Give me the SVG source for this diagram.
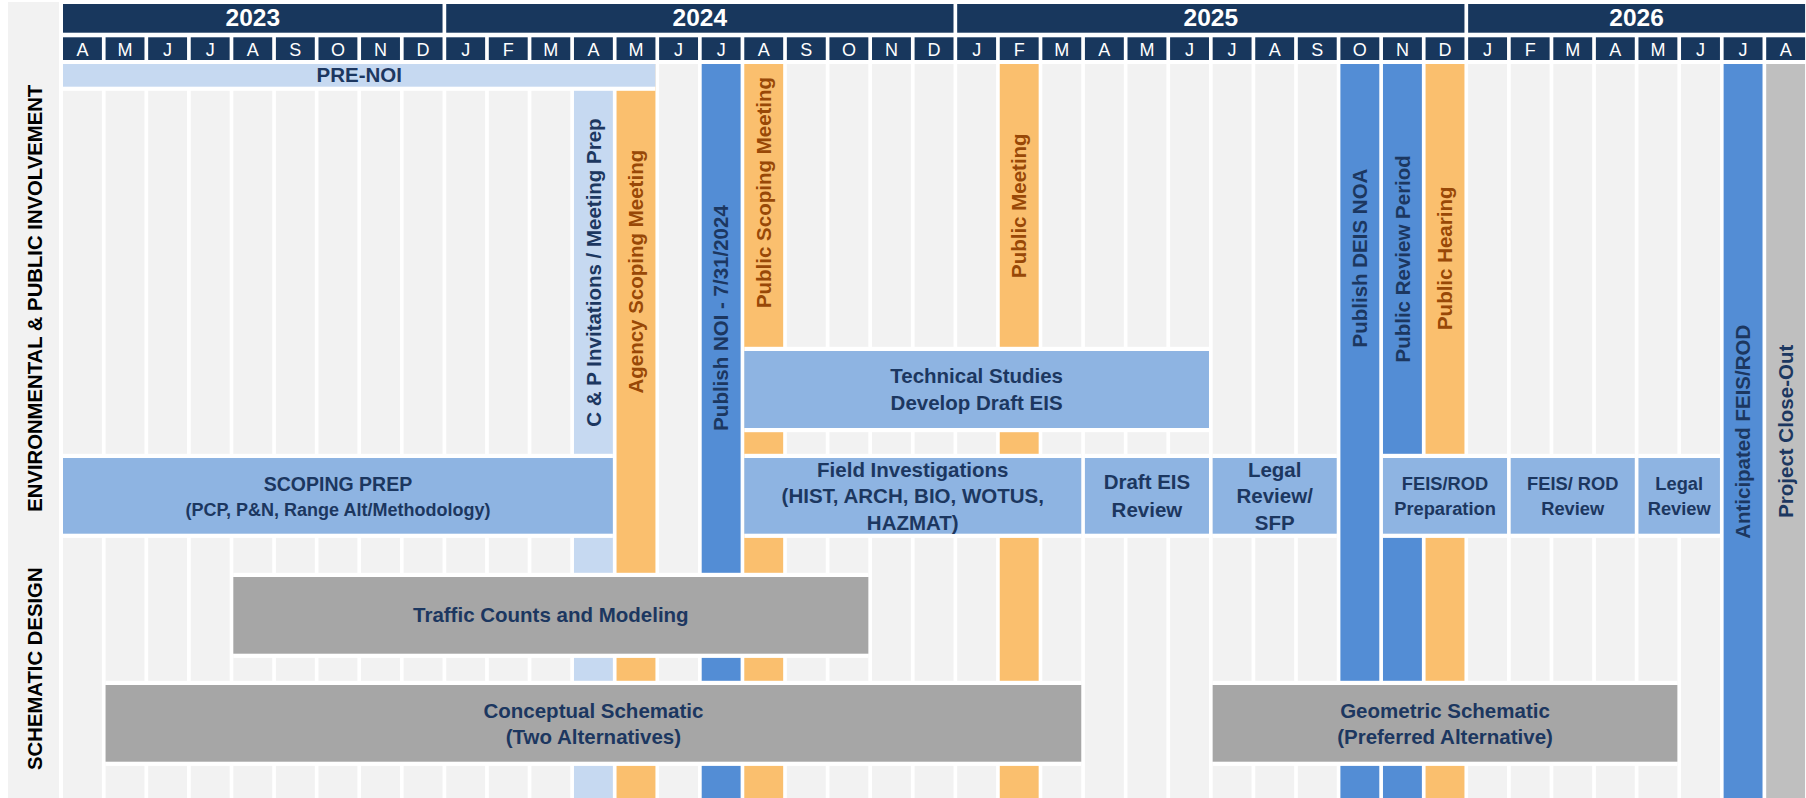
<svg xmlns="http://www.w3.org/2000/svg" width="1806" height="798" viewBox="0 0 1806 798">
<style>
.bg{fill:#ffffff}
.hdr{fill:#18375d}
.yr{font-family:"Liberation Sans",Arial,sans-serif;font-weight:bold;font-size:24.5px;fill:#ffffff;text-anchor:middle}
.mo{font-family:"Liberation Sans",Arial,sans-serif;font-size:18px;fill:#ffffff;text-anchor:middle}
.side{fill:#f2f2f2}
.sl{font-family:"Liberation Sans",Arial,sans-serif;font-weight:bold;font-size:20.3px;fill:#000000;text-anchor:middle}
.cell{fill:#f2f2f2}
.halo{fill:#ffffff}
.lb{fill:#c6d9f1}
.mb{fill:#8eb4e2}
.db{fill:#538dd5}
.or{fill:#fabf6e}
.gr{fill:#a6a6a6}
.gl{fill:#bfbfbf}
.t{font-family:"Liberation Sans",Arial,sans-serif;font-weight:bold;font-size:20.5px;fill:#1c3760;text-anchor:middle}
.s18{font-size:18.3px}
.br{fill:#984807}
</style>
<rect class="bg" x="0" y="0" width="1806" height="798"/>

<g id="side-panel">
<rect class="side" x="8" y="2" width="51" height="796"/>
<text class="sl" x="42" y="298.3" transform="rotate(-90 42 298.3)">ENVIRONMENTAL &amp; PUBLIC INVOLVEMENT</text>
<text class="sl" x="42" y="668.7" transform="rotate(-90 42 668.7)">SCHEMATIC DESIGN</text>
</g>

<g id="year-headers">
<rect class="hdr" x="63" y="4" width="379.54" height="28.7"/>
<text class="yr" x="252.77" y="26">2023</text>
<rect class="hdr" x="446.22" y="4" width="507.28" height="28.7"/>
<text class="yr" x="699.86" y="26">2024</text>
<rect class="hdr" x="957.18" y="4" width="507.28" height="28.7"/>
<text class="yr" x="1210.82" y="26">2025</text>
<rect class="hdr" x="1468.14" y="4" width="336.96" height="28.7"/>
<text class="yr" x="1636.62" y="26">2026</text>
</g>

<g id="month-headers">
<rect class="hdr" x="63" y="37.3" width="38.9" height="22.7"/><text class="mo" x="82.45" y="56">A</text>
<rect class="hdr" x="105.58" y="37.3" width="38.9" height="22.7"/><text class="mo" x="125.03" y="56">M</text>
<rect class="hdr" x="148.16" y="37.3" width="38.9" height="22.7"/><text class="mo" x="167.61" y="56">J</text>
<rect class="hdr" x="190.74" y="37.3" width="38.9" height="22.7"/><text class="mo" x="210.19" y="56">J</text>
<rect class="hdr" x="233.32" y="37.3" width="38.9" height="22.7"/><text class="mo" x="252.77" y="56">A</text>
<rect class="hdr" x="275.9" y="37.3" width="38.9" height="22.7"/><text class="mo" x="295.35" y="56">S</text>
<rect class="hdr" x="318.48" y="37.3" width="38.9" height="22.7"/><text class="mo" x="337.93" y="56">O</text>
<rect class="hdr" x="361.06" y="37.3" width="38.9" height="22.7"/><text class="mo" x="380.51" y="56">N</text>
<rect class="hdr" x="403.64" y="37.3" width="38.9" height="22.7"/><text class="mo" x="423.09" y="56">D</text>
<rect class="hdr" x="446.22" y="37.3" width="38.9" height="22.7"/><text class="mo" x="465.67" y="56">J</text>
<rect class="hdr" x="488.8" y="37.3" width="38.9" height="22.7"/><text class="mo" x="508.25" y="56">F</text>
<rect class="hdr" x="531.38" y="37.3" width="38.9" height="22.7"/><text class="mo" x="550.83" y="56">M</text>
<rect class="hdr" x="573.96" y="37.3" width="38.9" height="22.7"/><text class="mo" x="593.41" y="56">A</text>
<rect class="hdr" x="616.54" y="37.3" width="38.9" height="22.7"/><text class="mo" x="635.99" y="56">M</text>
<rect class="hdr" x="659.12" y="37.3" width="38.9" height="22.7"/><text class="mo" x="678.57" y="56">J</text>
<rect class="hdr" x="701.7" y="37.3" width="38.9" height="22.7"/><text class="mo" x="721.15" y="56">J</text>
<rect class="hdr" x="744.28" y="37.3" width="38.9" height="22.7"/><text class="mo" x="763.73" y="56">A</text>
<rect class="hdr" x="786.86" y="37.3" width="38.9" height="22.7"/><text class="mo" x="806.31" y="56">S</text>
<rect class="hdr" x="829.44" y="37.3" width="38.9" height="22.7"/><text class="mo" x="848.89" y="56">O</text>
<rect class="hdr" x="872.02" y="37.3" width="38.9" height="22.7"/><text class="mo" x="891.47" y="56">N</text>
<rect class="hdr" x="914.6" y="37.3" width="38.9" height="22.7"/><text class="mo" x="934.05" y="56">D</text>
<rect class="hdr" x="957.18" y="37.3" width="38.9" height="22.7"/><text class="mo" x="976.63" y="56">J</text>
<rect class="hdr" x="999.76" y="37.3" width="38.9" height="22.7"/><text class="mo" x="1019.21" y="56">F</text>
<rect class="hdr" x="1042.34" y="37.3" width="38.9" height="22.7"/><text class="mo" x="1061.79" y="56">M</text>
<rect class="hdr" x="1084.92" y="37.3" width="38.9" height="22.7"/><text class="mo" x="1104.37" y="56">A</text>
<rect class="hdr" x="1127.5" y="37.3" width="38.9" height="22.7"/><text class="mo" x="1146.95" y="56">M</text>
<rect class="hdr" x="1170.08" y="37.3" width="38.9" height="22.7"/><text class="mo" x="1189.53" y="56">J</text>
<rect class="hdr" x="1212.66" y="37.3" width="38.9" height="22.7"/><text class="mo" x="1232.11" y="56">J</text>
<rect class="hdr" x="1255.24" y="37.3" width="38.9" height="22.7"/><text class="mo" x="1274.69" y="56">A</text>
<rect class="hdr" x="1297.82" y="37.3" width="38.9" height="22.7"/><text class="mo" x="1317.27" y="56">S</text>
<rect class="hdr" x="1340.4" y="37.3" width="38.9" height="22.7"/><text class="mo" x="1359.85" y="56">O</text>
<rect class="hdr" x="1382.98" y="37.3" width="38.9" height="22.7"/><text class="mo" x="1402.43" y="56">N</text>
<rect class="hdr" x="1425.56" y="37.3" width="38.9" height="22.7"/><text class="mo" x="1445.01" y="56">D</text>
<rect class="hdr" x="1468.14" y="37.3" width="38.9" height="22.7"/><text class="mo" x="1487.59" y="56">J</text>
<rect class="hdr" x="1510.72" y="37.3" width="38.9" height="22.7"/><text class="mo" x="1530.17" y="56">F</text>
<rect class="hdr" x="1553.3" y="37.3" width="38.9" height="22.7"/><text class="mo" x="1572.75" y="56">M</text>
<rect class="hdr" x="1595.88" y="37.3" width="38.9" height="22.7"/><text class="mo" x="1615.33" y="56">A</text>
<rect class="hdr" x="1638.46" y="37.3" width="38.9" height="22.7"/><text class="mo" x="1657.91" y="56">M</text>
<rect class="hdr" x="1681.04" y="37.3" width="38.9" height="22.7"/><text class="mo" x="1700.49" y="56">J</text>
<rect class="hdr" x="1723.62" y="37.3" width="38.9" height="22.7"/><text class="mo" x="1743.07" y="56">J</text>
<rect class="hdr" x="1766.2" y="37.3" width="38.9" height="22.7"/><text class="mo" x="1785.65" y="56">A</text>
</g>

<g id="grid">
<rect class="cell" x="63" y="64" width="38.9" height="734"/>
<rect class="cell" x="105.58" y="64" width="38.9" height="734"/>
<rect class="cell" x="148.16" y="64" width="38.9" height="734"/>
<rect class="cell" x="190.74" y="64" width="38.9" height="734"/>
<rect class="cell" x="233.32" y="64" width="38.9" height="734"/>
<rect class="cell" x="275.9" y="64" width="38.9" height="734"/>
<rect class="cell" x="318.48" y="64" width="38.9" height="734"/>
<rect class="cell" x="361.06" y="64" width="38.9" height="734"/>
<rect class="cell" x="403.64" y="64" width="38.9" height="734"/>
<rect class="cell" x="446.22" y="64" width="38.9" height="734"/>
<rect class="cell" x="488.8" y="64" width="38.9" height="734"/>
<rect class="cell" x="531.38" y="64" width="38.9" height="734"/>
<rect class="cell" x="659.12" y="64" width="38.9" height="734"/>
<rect class="cell" x="786.86" y="64" width="38.9" height="734"/>
<rect class="cell" x="829.44" y="64" width="38.9" height="734"/>
<rect class="cell" x="872.02" y="64" width="38.9" height="734"/>
<rect class="cell" x="914.6" y="64" width="38.9" height="734"/>
<rect class="cell" x="957.18" y="64" width="38.9" height="734"/>
<rect class="cell" x="1042.34" y="64" width="38.9" height="734"/>
<rect class="cell" x="1084.92" y="64" width="38.9" height="734"/>
<rect class="cell" x="1127.5" y="64" width="38.9" height="734"/>
<rect class="cell" x="1170.08" y="64" width="38.9" height="734"/>
<rect class="cell" x="1212.66" y="64" width="38.9" height="734"/>
<rect class="cell" x="1255.24" y="64" width="38.9" height="734"/>
<rect class="cell" x="1297.82" y="64" width="38.9" height="734"/>
<rect class="cell" x="1468.14" y="64" width="38.9" height="734"/>
<rect class="cell" x="1510.72" y="64" width="38.9" height="734"/>
<rect class="cell" x="1553.3" y="64" width="38.9" height="734"/>
<rect class="cell" x="1595.88" y="64" width="38.9" height="734"/>
<rect class="cell" x="1638.46" y="64" width="38.9" height="734"/>
<rect class="cell" x="1681.04" y="64" width="38.9" height="734"/>
</g>

<g id="cp-invitations">
<rect class="lb" x="573.96" y="64" width="38.9" height="734"/>
<text class="t" x="600.7" y="272.5" transform="rotate(-90 600.7 272.5)">C &amp; P Invitations / Meeting Prep</text>
</g>
<g id="agency-scoping-meeting">
<rect class="or" x="616.54" y="64" width="38.9" height="734"/>
<text class="t br" x="643.3" y="271.7" transform="rotate(-90 643.3 271.7)">Agency Scoping Meeting</text>
</g>
<g id="publish-noi">
<rect class="db" x="701.7" y="64" width="38.9" height="734"/>
<text class="t" x="728.4" y="318" transform="rotate(-90 728.4 318)">Publish NOI - 7/31/2024</text>
</g>
<g id="public-scoping-meeting">
<rect class="or" x="744.28" y="64" width="38.9" height="734"/>
<text class="t br" x="771" y="192.5" transform="rotate(-90 771 192.5)">Public Scoping Meeting</text>
</g>
<g id="public-meeting">
<rect class="or" x="999.76" y="64" width="38.9" height="734"/>
<text class="t br" x="1026.5" y="205.7" transform="rotate(-90 1026.5 205.7)">Public Meeting</text>
</g>
<g id="publish-deis-noa">
<rect class="db" x="1340.4" y="64" width="38.9" height="734"/>
<text class="t" x="1367.1" y="258" transform="rotate(-90 1367.1 258)">Publish DEIS NOA</text>
</g>
<g id="public-review-period">
<rect class="db" x="1382.98" y="64" width="38.9" height="734"/>
<text class="t" x="1409.7" y="258.8" transform="rotate(-90 1409.7 258.8)">Public Review Period</text>
</g>
<g id="public-hearing">
<rect class="or" x="1425.56" y="64" width="38.9" height="734"/>
<text class="t br" x="1452.3" y="258.3" transform="rotate(-90 1452.3 258.3)">Public Hearing</text>
</g>
<g id="anticipated-feis-rod">
<rect class="db" x="1723.62" y="64" width="38.9" height="734"/>
<text class="t" x="1750.4" y="431.8" transform="rotate(-90 1750.4 431.8)">Anticipated FEIS/ROD</text>
</g>
<g id="project-close-out">
<rect class="gl" x="1766.2" y="64" width="38.9" height="734"/>
<text class="t" x="1792.9" y="431.3" transform="rotate(-90 1792.9 431.3)">Project Close-Out</text>
</g>

<g id="pre-noi">
<rect class="halo" x="63" y="64" width="592.44" height="26.8"/>
<rect class="lb" x="63" y="64" width="592.44" height="22.7"/>
<text class="t" x="359.22" y="82">PRE-NOI</text>
</g>

<g id="technical-studies">
<rect class="halo" x="744.28" y="346.8" width="464.7" height="85.4"/>
<rect class="mb" x="744.28" y="351" width="464.7" height="77"/>
<text class="t"><tspan x="976.63" y="383.3">Technical Studies</tspan><tspan x="976.63" y="410">Develop Draft EIS</tspan></text>
</g>

<g id="scoping-prep">
<rect class="halo" x="63" y="453.8" width="549.86" height="84.1"/>
<rect class="mb" x="63" y="458" width="549.86" height="75.7"/>
<text class="t"><tspan x="337.93" y="490.7" style="font-size:19.5px">SCOPING PREP</tspan><tspan x="337.93" y="515.7" style="font-size:18px">(PCP, P&amp;N, Range Alt/Methodology)</tspan></text>
</g>

<g id="field-investigations">
<rect class="halo" x="744.28" y="453.8" width="336.96" height="84.1"/>
<rect class="mb" x="744.28" y="458" width="336.96" height="75.7"/>
<text class="t"><tspan x="912.76" y="476.7">Field Investigations</tspan><tspan x="912.76" y="503.3">(HIST, ARCH, BIO, WOTUS,</tspan><tspan x="912.76" y="530">HAZMAT)</tspan></text>
</g>

<g id="draft-eis-review">
<rect class="halo" x="1084.92" y="453.8" width="124.06" height="84.1"/>
<rect class="mb" x="1084.92" y="458" width="124.06" height="75.7"/>
<text class="t"><tspan x="1146.95" y="489.3">Draft EIS</tspan><tspan x="1146.95" y="516.7">Review</tspan></text>
</g>

<g id="legal-review-sfp">
<rect class="halo" x="1212.66" y="453.8" width="124.06" height="84.1"/>
<rect class="mb" x="1212.66" y="458" width="124.06" height="75.7"/>
<text class="t"><tspan x="1274.69" y="476.7">Legal</tspan><tspan x="1274.69" y="503.3">Review/</tspan><tspan x="1274.69" y="530">SFP</tspan></text>
</g>

<g id="feis-rod-preparation">
<rect class="halo" x="1382.98" y="453.8" width="124.06" height="84.1"/>
<rect class="mb" x="1382.98" y="458" width="124.06" height="75.7"/>
<text class="t s18"><tspan x="1445.01" y="490">FEIS/ROD</tspan><tspan x="1445.01" y="514.5">Preparation</tspan></text>
</g>

<g id="feis-rod-review">
<rect class="halo" x="1510.72" y="453.8" width="124.06" height="84.1"/>
<rect class="mb" x="1510.72" y="458" width="124.06" height="75.7"/>
<text class="t s18"><tspan x="1572.75" y="490">FEIS/ ROD</tspan><tspan x="1572.75" y="514.5">Review</tspan></text>
</g>

<g id="legal-review">
<rect class="halo" x="1638.46" y="453.8" width="81.48" height="84.1"/>
<rect class="mb" x="1638.46" y="458" width="81.48" height="75.7"/>
<text class="t s18"><tspan x="1679.2" y="490">Legal</tspan><tspan x="1679.2" y="514.5">Review</tspan></text>
</g>

<g id="traffic-counts">
<rect class="halo" x="233.32" y="572.8" width="635.02" height="85.1"/>
<rect class="gr" x="233.32" y="577" width="635.02" height="76.7"/>
<text class="t" x="550.83" y="622.3">Traffic Counts and Modeling</text>
</g>

<g id="conceptual-schematic">
<rect class="halo" x="105.58" y="680.8" width="975.66" height="85.1"/>
<rect class="gr" x="105.58" y="685" width="975.66" height="76.7"/>
<text class="t"><tspan x="593.41" y="717.5">Conceptual Schematic</tspan><tspan x="593.41" y="744.3">(Two Alternatives)</tspan></text>
</g>

<g id="geometric-schematic">
<rect class="halo" x="1212.66" y="680.8" width="464.7" height="85.1"/>
<rect class="gr" x="1212.66" y="685" width="464.7" height="76.7"/>
<text class="t"><tspan x="1445.01" y="717.5">Geometric Schematic</tspan><tspan x="1445.01" y="744.3">(Preferred Alternative)</tspan></text>
</g>

<g id="connectors"/>
</svg>
